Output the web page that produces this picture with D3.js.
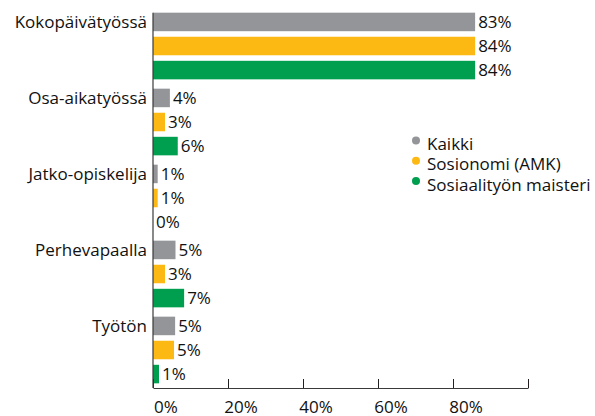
<!DOCTYPE html>
<html>
<head>
<meta charset="utf-8">
<script src="https://cdn.jsdelivr.net/npm/d3@7"></script>
<style>
  body { margin: 0; background: #fff; }
  svg text { font-family: "Open Sans", sans-serif; fill: #111; }
</style>
</head>
<body>
<div id="chart"></div>
<script>
// categories and series
var categories = ["Kokopäivätyössä", "Osa-aikatyössä", "Jatko-opiskelija", "Perhevapaalla", "Työtön"];
var series = ["Kaikki", "Sosionomi (AMK)", "Sosiaalityön maisteri"];
var colors = ["#939598", "#fdb913", "#009e4f"];

// printed percentages
var kaikkiPct = [83, 4, 1, 5, 5];
var sosionomiPct = [84, 3, 1, 3, 5];
var maisteriPct = [84, 6, 0, 7, 1];

// bar lengths as drawn in the picture (%)
var kaikkiBar = [85.9, 4.5, 1.25, 6.0, 5.9];
var sosionomiBar = [85.9, 3.2, 1.25, 3.2, 5.6];
var maisteriBar = [85.9, 6.6, 0, 8.3, 1.6];

var xTicks = [0, 20, 40, 60, 80, 100];

var width = 595, height = 416;

var pcts = [kaikkiPct, sosionomiPct, maisteriPct];
var bars = [kaikkiBar, sosionomiBar, maisteriBar];

var rows = [];
categories.forEach(function (c, i) {
  series.forEach(function (s, j) {
    rows.push({ cat: c, ser: s, idx: j, bar: bars[j][i], pct: pcts[j][i] });
  });
});

var x = d3.scaleLinear().domain([0, 100]).range([153, 528]);

var yGroup = d3.scaleBand()
  .domain(categories)
  .range([8, 388])
  .paddingInner(0.1227)
  .paddingOuter(0.0614);

var ySer = d3.scaleBand()
  .domain(series)
  .range([0, yGroup.bandwidth()])
  .paddingInner(0.23);

var svg = d3.select("#chart")
  .append("svg")
  .attr("width", width)
  .attr("height", height);

// bars
svg.append("g")
  .selectAll("rect")
  .data(rows)
  .enter()
  .append("rect")
  .attr("x", x(0))
  .attr("y", function (d) { return yGroup(d.cat) + ySer(d.ser); })
  .attr("width", function (d) { return x(d.bar) - x(0); })
  .attr("height", ySer.bandwidth())
  .attr("fill", function (d) { return colors[d.idx]; });

// value labels
svg.append("g")
  .selectAll("text")
  .data(rows)
  .enter()
  .append("text")
  .attr("x", function (d) { return x(d.bar) + 3; })
  .attr("y", function (d) { return yGroup(d.cat) + ySer(d.ser) + ySer.bandwidth() / 2; })
  .attr("dy", "0.35em")
  .style("font-size", "17px")
  .text(function (d) { return d.pct + "%"; });

// category labels, aligned with the first bar of each group
svg.append("g")
  .selectAll("text")
  .data(categories)
  .enter()
  .append("text")
  .attr("x", x(0) - 6)
  .attr("y", function (d) { return yGroup(d) + ySer(series[0]) + ySer.bandwidth() / 2; })
  .attr("dy", "0.35em")
  .attr("text-anchor", "end")
  .style("font-size", "17px")
  .text(function (d) { return d; });

// x axis
var xAxis = d3.axisBottom(x)
  .tickValues(xTicks)
  .tickSize(-9)
  .tickSizeOuter(0)
  .tickFormat(function (d) { return d === 100 ? "" : d + "%"; });

var gx = svg.append("g")
  .attr("transform", "translate(0," + yGroup.range()[1] + ")")
  .call(xAxis);
gx.select(".domain").attr("stroke", "#3a3a3a").attr("stroke-width", 1.2);
gx.selectAll(".tick line").attr("stroke", "#231f20").attr("stroke-width", 1);
gx.selectAll(".tick text")
  .attr("y", 24.5)
  .attr("dy", 0)
  .attr("dx", 12.5)
  .style("font-size", "17px")
  .style("font-family", "'Open Sans', sans-serif")
  .attr("fill", "#111");

// y axis line
svg.append("line")
  .attr("x1", x(0)).attr("x2", x(0))
  .attr("y1", yGroup(categories[0]))
  .attr("y2", yGroup.range()[1])
  .attr("stroke", "#3a3a3a")
  .attr("stroke-width", 1.2);

// legend
var legend = svg.append("g")
  .attr("transform", "translate(416,150)");

var li = legend.selectAll("g")
  .data(series)
  .enter()
  .append("g")
  .attr("transform", function (d, i) { return "translate(0," + i * 20.3 + ")"; });

li.append("circle")
  .attr("cx", 0)
  .attr("cy", -9.5)
  .attr("r", 4)
  .attr("fill", function (d, i) { return colors[i]; });

li.append("text")
  .attr("x", 11)
  .attr("y", 0)
  .style("font-size", "17px")
  .text(function (d) { return d; });
</script>
</body>
</html>
